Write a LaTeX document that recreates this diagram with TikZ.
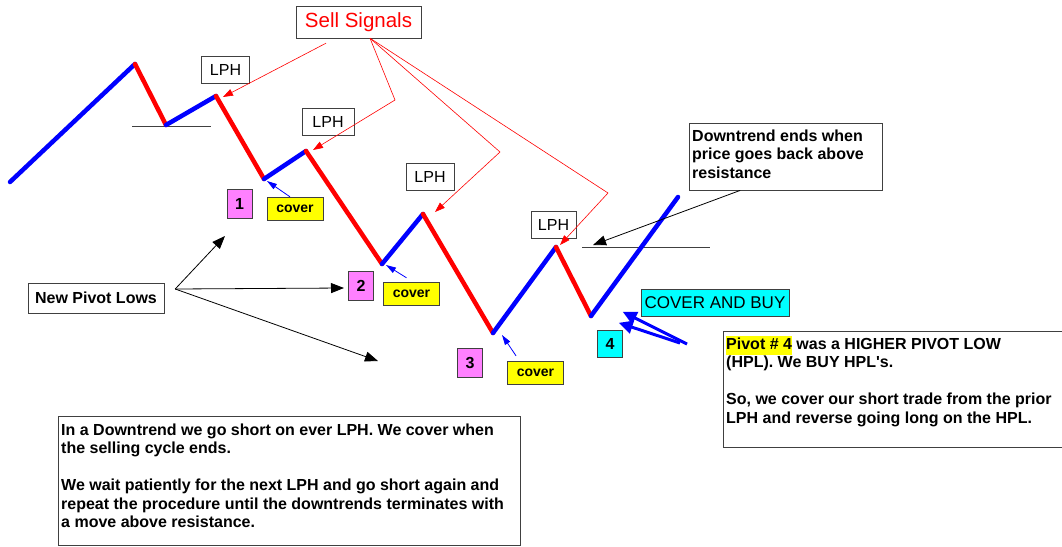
\documentclass[tikz,border=0pt]{standalone}
\usepackage{fontspec}
\setmainfont{Liberation Sans}
\usepackage{xcolor}
\usetikzlibrary{arrows.meta,positioning}
\definecolor{boxgray}{HTML}{404040}
\definecolor{pinkbox}{HTML}{FF80FF}
\definecolor{cyanbox}{HTML}{00FFFF}
\definecolor{hiyel}{HTML}{FFFF00}
\tikzset{
  up/.style={blue,line width=4.5pt,line cap=round},
  down/.style={red,line width=4.5pt,line cap=round},
  res/.style={boxgray,line width=1pt},
  lph/.style={draw=boxgray,fill=white,font=\fontsize{16}{18}\selectfont,minimum width=48pt,minimum height=27pt,inner sep=0pt},
  numbox/.style={draw=boxgray,font=\bfseries\fontsize{16}{18}\selectfont,minimum width=25pt,minimum height=29pt,inner sep=0pt},
  coverbox/.style={draw=boxgray,fill=hiyel,font=\bfseries\fontsize{14}{16}\selectfont,minimum width=56pt,minimum height=23pt,inner sep=0pt},
  note/.style={draw=boxgray,fill=white,anchor=north west,inner xsep=3pt,inner ysep=5pt,font=\bfseries\fontsize{16}{18.5}\selectfont},
  sellarr/.style={red,line width=0.6pt,-{Triangle[length=10pt,width=7pt]}},
  blkarr/.style={black,line width=0.8pt,-{Triangle[length=13pt,width=10pt]}},
  covarr/.style={blue,line width=0.8pt,-{Triangle[length=10pt,width=6pt]}},
  bigarr/.style={blue,line width=3pt,-{Triangle[length=14pt,width=13pt]}}
}

\begin{document}
\begin{tikzpicture}[x=1pt,y=-1pt]
\useasboundingbox (0,0) rectangle (1062,546);
% price swings
\coordinate (p0) at (10,182);  \coordinate (p1) at (135,64);
\coordinate (p2) at (166,125); \coordinate (p3) at (216,96);
\coordinate (p4) at (264,179); \coordinate (p5) at (306,151);
\coordinate (p6) at (382,264); \coordinate (p7) at (423,214);
\coordinate (p8) at (493,333); \coordinate (p9) at (556,247);
\coordinate (p10) at (591,316); \coordinate (p11) at (678,197);
\draw[res] (132,126) coordinate (r1a) -- (211,126) coordinate (r1b);
\draw[res] (582,247) coordinate (r2a) -- (710,247) coordinate (r2b);
\foreach \s/\a/\b in {up/p0/p1,down/p1/p2,up/p2/p3,down/p3/p4,up/p4/p5,down/p5/p6,
  up/p6/p7,down/p7/p8,up/p8/p9,down/p9/p10,up/p10/p11}
  \draw[\s] (\a) -- (\b);

\node[draw=boxgray,fill=white,text=red,font=\fontsize{20.5}{24}\selectfont,minimum width=125pt,minimum height=32pt,inner sep=0pt] (sell) at (358.5,22) {Sell Signals};
\node[lph] (l1) at (225.5,69.5) {LPH};
\node[lph,minimum width=52pt] (l2) at (328,121.5) {LPH};
\node[lph] (l3) at (430,177) {LPH};
\node[lph,minimum width=45pt] (l4) at (553.5,224.5) {LPH};

\node[numbox,fill=pinkbox] (b1) at (239.5,203.5) {1};
\node[numbox,fill=pinkbox] (b2) at (361,286) {2};
\node[numbox,fill=pinkbox] (b3) at (470,362.5) {3};
\node[numbox,fill=cyanbox,minimum height=27pt] (b4) at (610,343.5) {4};
\node[coverbox] (c1) at (295,208.5) {cover};
\node[coverbox] (c2) at (411.5,293.5) {cover};
\node[coverbox] (c3) at (535.5,372.5) {cover};
\node[draw=boxgray,fill=cyanbox,font=\fontsize{17}{20}\selectfont,minimum width=148pt,minimum height=27pt,inner sep=0pt] (cb) at (715,302.5) {COVER AND BUY};
\node[draw=boxgray,fill=white,font=\bfseries\fontsize{16}{18}\selectfont,minimum width=136pt,minimum height=30pt,inner sep=0pt] (npl) at (96,298) {New Pivot Lows};

\node[note] (dt) at (689,123) {\parbox[t][57pt][t]{187pt}{\raggedright\strut Downtrend ends when\\
  price goes back above\\ resistance}};
\node[note] (pivot) at (723,331) {\parbox[t][106pt][t]{334pt}{\raggedright\strut{\setlength{\fboxsep}{0pt}\colorbox{hiyel}{\strut Pivot \# 4}} was a HIGHER PIVOT LOW\\
  (HPL). We BUY HPL\textquotesingle s.\\[\baselineskip]
  So, we cover our short trade from the prior\\
  LPH and reverse going long on the HPL.}};
\node[note,inner ysep=6pt] (rule) at (58,416) {\parbox[t][117pt][t]{456pt}{\raggedright\strut In a Downtrend we go short on ever LPH. We cover when\\
  the selling cycle ends.\\[\baselineskip]
  We wait patiently for the next LPH and go short again and\\
  repeat the procedure until the downtrends terminates with\\
  a move above resistance.}};

% sell signal pointers
\coordinate (k2) at (395,100); \coordinate (k3) at (500,152); \coordinate (k4) at (608,193);
\coordinate (t3) at (223,97);  \coordinate (t5) at (313,150);
\coordinate (t7) at (435,212); \coordinate (t9) at (560,245);
\draw[sellarr] ([shift={(-32.5,5)}]sell.south) -- (t3);
\foreach \k/\t in {k2/t5,k3/t7,k4/t9}
  \draw[sellarr] ([xshift=11.5pt]sell.south) -- (\k) -- (\t);

% cover pointers
\draw[covarr] ([xshift=-5pt]c1.north) -- ([shift={(3,2)}]p4);
\draw[covarr] ([shift={(-5,-4)}]c2.north) -- ([shift={(4,1)}]p6);
\draw[covarr] ([shift={(-19.5,-5)}]c3.north) -- ([shift={(9,2)}]p8);

% new pivot lows
\coordinate (fork) at ([shift={(11,-9)}]npl.east);
\coordinate (n1) at (225,236); \coordinate (n2) at (344,288); \coordinate (n3) at (378,361);
\foreach \t in {n1,n2,n3}
  \draw[blkarr] (fork) -- (\t);

\draw[blkarr] ([xshift=-45.5pt]dt.south) -- ([shift={(11,-2)}]r2a);

\coordinate (hA) at (687,344); \coordinate (hB) at (680,343);
\draw[bigarr] (hA) -- ([shift={(0,-18)}]b4.north east);
\draw[bigarr] (hB) -- ([shift={(-4,-7)}]b4.north east);
\end{tikzpicture}
\end{document}
